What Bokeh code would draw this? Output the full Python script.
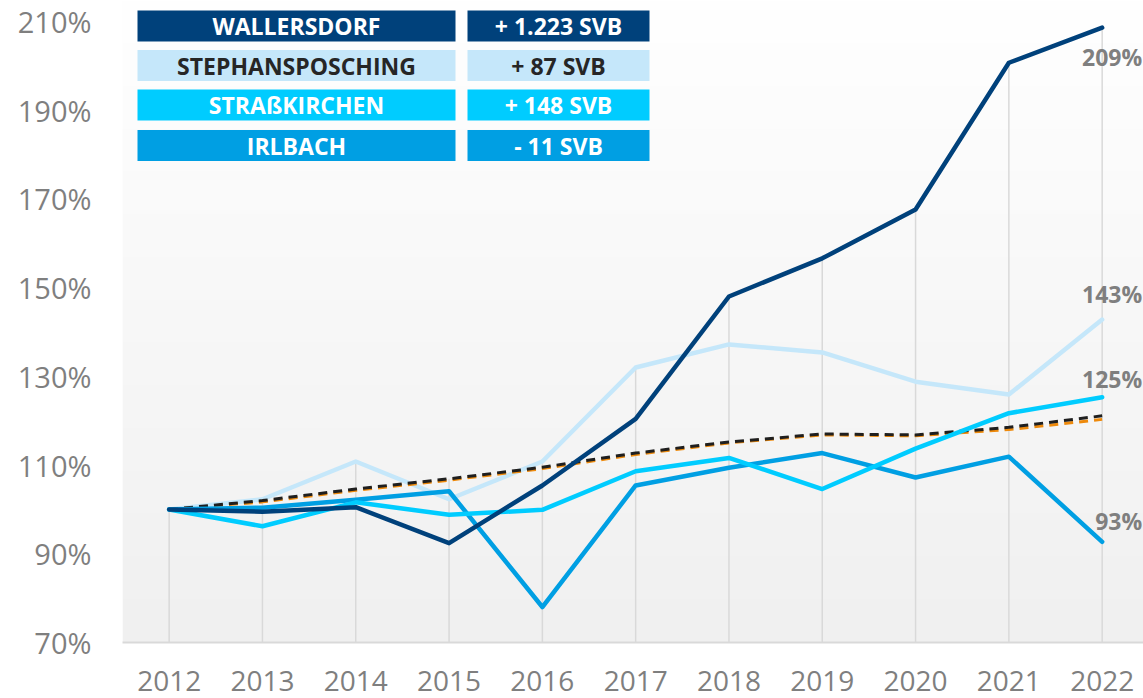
import numpy as np
from bokeh.plotting import figure
from bokeh.models import Range1d, FixedTicker, PrintfTickFormatter, ColumnDataSource
from bokeh.core.properties import value
from bokeh.embed import file_html
from bokeh.resources import INLINE

# ---------------- data ----------------
years = ["2012", "2013", "2014", "2015", "2016", "2017", "2018", "2019", "2020", "2021", "2022"]
wallersdorf = [100, 99.5, 100.5, 92.4, 105.4, 120.4, 148.0, 156.6, 167.6, 200.7, 208.6]
stephansposching = [100, 102.3, 110.8, 102.3, 110.8, 132.0, 137.2, 135.4, 128.8, 125.9, 142.8]
strasskirchen = [100, 96.2, 101.6, 98.8, 99.9, 108.6, 111.6, 104.6, 113.7, 121.7, 125.3]
irlbach = [100, 100.4, 102.2, 104.1, 78.0, 105.4, 109.4, 112.7, 107.2, 111.9, 92.7]
trend_black = [100, 102.0, 104.6, 106.9, 109.5, 112.7, 115.2, 117.0, 116.8, 118.5, 121.1]
trend_orange = [100, 101.7, 104.3, 106.6, 109.2, 112.4, 115.0, 116.8, 116.6, 118.0, 120.3]

legend_names = ["WALLERSDORF", "STEPHANSPOSCHING", "STRAßKIRCHEN", "IRLBACH"]
legend_changes = ["+ 1.223 SVB", "+ 87 SVB", "+ 148 SVB", "- 11 SVB"]
y_ticks = [70, 90, 110, 130, 150, 170, 190, 210]

# ---------------- styling / layout ----------------
C_WALL = "#00417B"
C_STEP = "#C5E7FA"
C_STRA = "#00CCFF"
C_IRL = "#009FE3"
C_GRAY = "#7F7F7F"
FONT = "Open Sans"

W, H = 1143, 698
FL, FB = 122, 56             # frame left / bottom border (px)
X0, X1 = -0.5, 10.443
Y0, Y1 = 70, 214.73
FW, FH = W - FL, H - FB

def dx(px):
    return X0 + (px - FL) * (X1 - X0) / FW

def dy(py):
    return Y0 + (H - FB - py) * (Y1 - Y0) / FH

p = figure(width=W, height=H, output_backend="svg", toolbar_location=None,
           x_range=Range1d(X0, X1), y_range=Range1d(Y0, Y1),
           min_border_left=FL, min_border_right=0, min_border_top=0,
           min_border_bottom=FB, outline_line_color=None,
           background_fill_color="white", border_fill_color="white")

# gradient plot-area background
n = FH
img = np.empty((n, 1), dtype=np.uint32)
view = img.view(dtype=np.uint8).reshape((n, 1, 4))
shade = np.linspace(240, 255, n).astype(np.uint8)  # row 0 = bottom
view[:, 0, 0] = shade
view[:, 0, 1] = shade
view[:, 0, 2] = shade
view[:, 0, 3] = 255
p.image_rgba(image=[img], x=X0, y=Y0, dw=X1 - X0, dh=Y1 - Y0)

xs = np.arange(len(years))

# drop lines from highest point of each year
all_series = np.vstack([wallersdorf, stephansposching, strasskirchen, irlbach, trend_black, trend_orange])
tops = all_series.max(axis=0)
p.segment(x0=xs, y0=[Y0] * len(xs), x1=xs, y1=tops, line_color="#D9D9D9", line_width=1.5)

# legend boxes
rows_top = [10, 49.5, 89, 129.5]
row_h = 31
box_fill = [C_WALL, C_STEP, C_STRA, C_IRL]
text_col = ["white", "#262626", "white", "white"]
for (l, r) in [(137, 455), (467, 649)]:
    p.quad(left=[dx(l)] * 4, right=[dx(r)] * 4,
           top=[dy(t) for t in rows_top], bottom=[dy(t + row_h) for t in rows_top],
           fill_color=box_fill, line_color=None)
p.text(x=[dx(296)] * 4, y=[dy(t + row_h / 2) for t in rows_top], text=legend_names,
       text_color=text_col, text_font=value(FONT), text_font_style="bold",
       text_font_size="23px", text_align="center", text_baseline="middle")
p.text(x=[dx(558)] * 4, y=[dy(t + row_h / 2) for t in rows_top], text=legend_changes,
       text_color=text_col, text_font=value(FONT), text_font_style="bold",
       text_font_size="23px", text_align="center", text_baseline="middle")

# lines
lw = 4.5
p.line(xs, stephansposching, line_color=C_STEP, line_width=lw, line_join="round", line_cap="round")
p.line(xs, trend_orange, line_color="#EE8A0C", line_width=3, line_dash="9 6")
p.line(xs, trend_black, line_color="#1F1F1F", line_width=3, line_dash="9 6")
p.line(xs, irlbach, line_color=C_IRL, line_width=lw, line_join="round", line_cap="round")
p.line(xs, strasskirchen, line_color=C_STRA, line_width=lw, line_join="round", line_cap="round")
p.line(xs, wallersdorf, line_color=C_WALL, line_width=lw, line_join="round", line_cap="round")

# end labels
last = [wallersdorf[-1], stephansposching[-1], strasskirchen[-1], irlbach[-1]]
end_src = ColumnDataSource(dict(
    x=[xs[-1]] * 4, y=last, t=["%d%%" % round(v) for v in last],
    yo=[29, -26, -18, -21]))
p.text(x="x", y="y", text="t", source=end_src, x_offset=40, y_offset="yo",
       text_color=C_GRAY, text_font=value(FONT), text_font_style="bold",
       text_font_size="23px", text_align="right", text_baseline="middle")

# axes
p.xgrid.visible = False
p.ygrid.visible = False
p.xaxis.ticker = FixedTicker(ticks=list(xs))
p.xaxis.major_label_overrides = {int(i): y for i, y in zip(xs, years)}
p.xaxis.axis_line_color = "#D9D9D9"
p.xaxis.axis_line_width = 2
p.xaxis.major_tick_line_color = None
p.xaxis.minor_tick_line_color = None
p.xaxis.major_label_standoff = 22
p.xaxis.major_label_text_font = FONT
p.xaxis.major_label_text_font_size = "28px"
p.xaxis.major_label_text_color = C_GRAY

p.yaxis.ticker = FixedTicker(ticks=y_ticks)
p.yaxis.formatter = PrintfTickFormatter(format="%d%%")
p.yaxis.axis_line_color = None
p.yaxis.major_tick_line_color = None
p.yaxis.minor_tick_line_color = None
p.yaxis.major_label_standoff = 25
p.yaxis.major_label_text_font = FONT
p.yaxis.major_label_text_font_size = "29px"
p.yaxis.major_label_text_color = C_GRAY

open("out.html", "w").write(file_html(p, INLINE))
